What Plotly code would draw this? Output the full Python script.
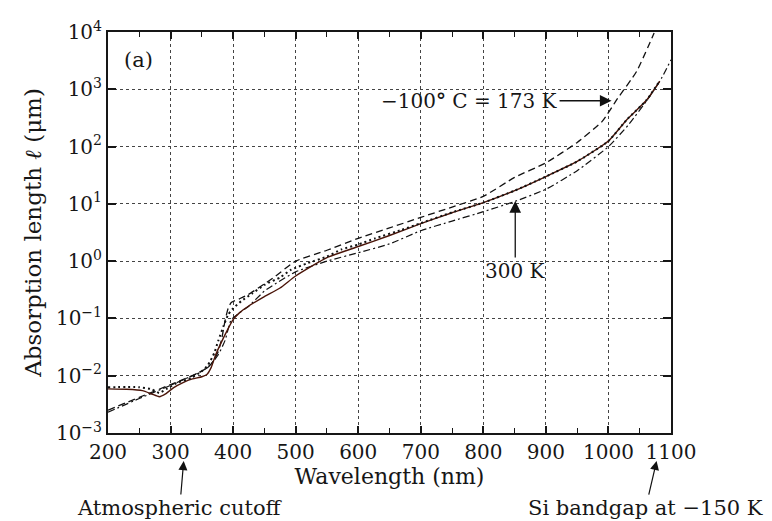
import plotly.graph_objects as go

# ---- data ----
wl_300k = [200, 230, 255, 270, 282, 292, 305, 320, 335, 350, 358, 365, 372, 380, 390, 400, 410, 425,
           450, 475, 500, 550, 600, 650, 700, 750, 800, 850, 900, 950, 1000, 1030, 1060, 1082]
al_300k = [5.9e-3, 5.8e-3, 5.5e-3, 4.8e-3, 4.3e-3, 4.8e-3, 6.2e-3, 7.6e-3, 8.8e-3, 9.6e-3, 1.05e-2,
           1.4e-2, 2.3e-2, 3.6e-2, 6.0e-2, 9.5e-2, 0.125, 0.165, 0.24, 0.34, 0.55, 1.15, 1.8, 2.8, 4.5,
           7.0, 10.5, 17, 30, 55, 125, 300, 630, 1380]

wl_173k = [200, 250, 300, 330, 350, 365, 376, 382, 387, 392, 397, 410, 424, 450, 467, 500, 550, 600,
           650, 700, 750, 800, 850, 900, 950, 990, 1015, 1045, 1073]
al_173k = [2.5e-3, 4.2e-3, 7.0e-3, 9.5e-3, 1.2e-2, 1.6e-2, 2.6e-2, 4.5e-2, 0.09, 0.15, 0.19, 0.22,
           0.26, 0.40, 0.54, 1.0, 1.55, 2.5, 3.8, 5.8, 8.8, 13.5, 29, 52, 118, 275, 700, 2050, 9600]

wl_dashdot = [200, 250, 300, 330, 360, 376, 387, 397, 410, 424, 450, 467, 500, 550, 600, 650, 700,
              750, 800, 850, 900, 950, 1000, 1032, 1064, 1085, 1100]
al_dashdot = [2.3e-3, 4.0e-3, 6.8e-3, 9.5e-3, 1.4e-2, 2.3e-2, 4.1e-2, 0.095, 0.125, 0.16, 0.30, 0.40,
              0.65, 1.0, 1.4, 2.0, 3.4, 5.0, 7.3, 11, 18, 38, 100, 240, 700, 1570, 3270]

wl_dotted = [200, 250, 270, 282, 295, 310, 333, 350, 360, 370, 376, 385, 392, 400, 413, 430, 451, 475,
             493, 520, 550, 573, 600, 627, 669, 700, 750, 800, 850, 900, 950, 1000, 1030, 1060, 1080]
al_dotted = [6.3e-3, 6.3e-3, 5.8e-3, 5.0e-3, 6.0e-3, 7.5e-3, 9.1e-3, 1.2e-2, 1.55e-2, 2.5e-2, 0.04,
             0.075, 0.116, 0.15, 0.2, 0.27, 0.39, 0.52, 0.71, 0.93, 1.2, 1.6, 1.95, 2.5, 3.5, 4.6, 7.1,
             10.5, 17, 30, 55, 125, 300, 630, 1300]

x_ticks = [200, 300, 400, 500, 600, 700, 800, 900, 1000, 1100]
y_ticks = [1e-3, 1e-2, 1e-1, 1e0, 1e1, 1e2, 1e3, 1e4]
y_ticktext = ["10<sup>−3</sup>", "10<sup>−2</sup>", "10<sup>−1</sup>", "10<sup>0</sup>",
              "10<sup>1</sup>", "10<sup>2</sup>", "10<sup>3</sup>", "10<sup>4</sup>"]

FONT = "DejaVu Serif"
INK = "#161616"

fig = go.Figure()
fig.add_trace(go.Scatter(x=wl_173k, y=al_173k, mode="lines",
                         line=dict(color="#111111", width=1.3, dash="7px,4px", shape="spline", smoothing=0.5)))
fig.add_trace(go.Scatter(x=wl_dashdot, y=al_dashdot, mode="lines",
                         line=dict(color="#111111", width=1.2, dash="7px,3px,2px,3px", shape="spline", smoothing=0.5)))
fig.add_trace(go.Scatter(x=wl_300k, y=al_300k, mode="lines",
                         line=dict(color="#4a1408", width=1.4, shape="spline", smoothing=0.5)))
fig.add_trace(go.Scatter(x=wl_dotted, y=al_dotted, mode="lines",
                         line=dict(color="#111111", width=2, dash="2px,3px", shape="spline", smoothing=0.5)))

axis_common = dict(showline=True, linewidth=2, linecolor=INK, mirror="ticks", ticks="inside",
                   tickcolor=INK, tickwidth=1.5, showgrid=True, gridcolor="#444444", gridwidth=1,
                   griddash="dot", zeroline=False, automargin=False,
                   tickfont=dict(family=FONT, size=20, color=INK))

fig.update_xaxes(range=[200, 1100], tickvals=x_ticks, ticklen=7,
                 minor=dict(tick0=200, dtick=50, ticks="inside", ticklen=5, tickcolor=INK, tickwidth=1.2,
                            showgrid=False),
                 title=dict(text="Wavelength (nm)", font=dict(family=FONT, size=22, color=INK), standoff=2),
                 **axis_common)
fig.update_yaxes(type="log", range=[-3, 4], tickvals=y_ticks, ticktext=y_ticktext, ticklen=8,
                 title=dict(text="Absorption length <i>ℓ</i> (μm)", font=dict(family=FONT, size=23, color=INK),
                            standoff=8),
                 **axis_common)

ann_font = dict(family=FONT, size=20, color=INK)
bot_font = dict(family=FONT, size=21, color=INK)
fig.add_annotation(text="(a)", xref="paper", yref="paper", x=0.025, y=0.93, xanchor="left",
                   yanchor="middle", showarrow=False, font=dict(family=FONT, size=21, color=INK))
fig.add_annotation(text="−100<b>°</b> C = 173 K", x=1005, y=2.80, xref="x", yref="y", ax=-142, ay=0,
                   showarrow=True, arrowhead=2, arrowsize=1.8, arrowwidth=1.3, arrowcolor="#111111",
                   font=ann_font)
fig.add_annotation(text="300 K", x=851, y=1.049, xref="x", yref="y", ax=0, ay=70,
                   showarrow=True, arrowhead=2, arrowsize=1.8, arrowwidth=1.3, arrowcolor="#111111",
                   font=ann_font)
fig.add_annotation(text="Atmospheric cutoff", x=321, y=-0.07, xref="x", yref="paper", ax=-4, ay=47,
                   showarrow=True, arrowhead=2, arrowsize=1.5, arrowwidth=1.2, arrowcolor="#111111",
                   font=bot_font)
fig.add_annotation(text="Si bandgap at −150 K", x=1077, y=-0.07, xref="x", yref="paper", ax=-11, ay=47,
                   showarrow=True, arrowhead=2, arrowsize=1.5, arrowwidth=1.2, arrowcolor="#111111",
                   font=bot_font)

fig.update_layout(width=772, height=521, margin=dict(l=100, r=109, t=24, b=96),
                  paper_bgcolor="white", plot_bgcolor="white", showlegend=False,
                  font=dict(family=FONT, color=INK))

fig.write_html("out.html")
